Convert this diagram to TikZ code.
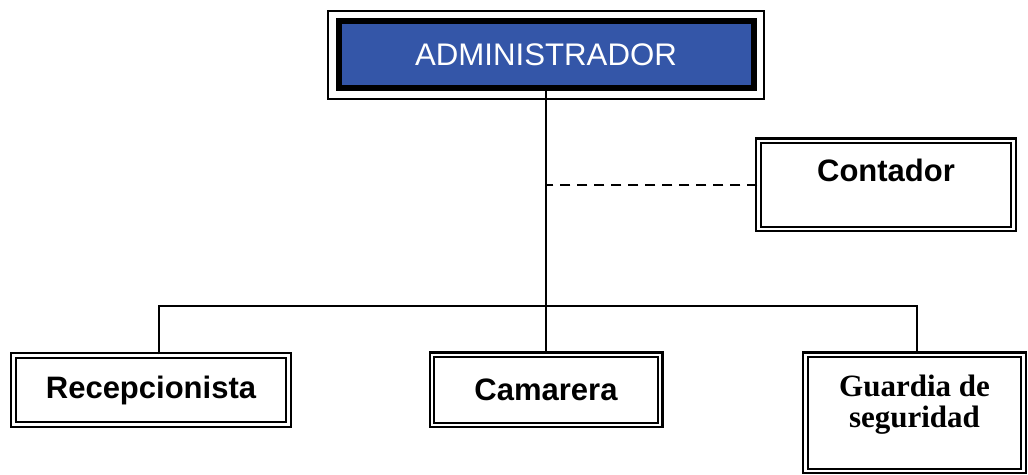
\documentclass[tikz,border=0pt]{standalone}
\usepackage{fontspec}
\setmainfont{Liberation Sans}
\newfontfamily\timesbf{Liberation Serif}[BoldFont={* Bold}]
\definecolor{admblue}{RGB}{52,86,168}

\begin{document}
\begin{tikzpicture}[-,shorten >=0pt,node distance=166pt,line width=1.2pt,
    head node/.style={draw=black,fill=admblue,line width=3pt,minimum width=207.5pt,minimum height=33.5pt,text=white,font=\fontsize{15.6}{18}\selectfont},
    main node/.style={draw=black,double=white,line width=1.1pt,double distance=1.2pt,font=\fontsize{15.5}{18}\selectfont\bfseries},
    dash line/.style={dashed,dash pattern=on 5pt off 3.5pt,line width=1.2pt}]

            \useasboundingbox (0pt,0pt) rectangle (514pt,-237.5pt);

            \node[head node] (1) at (273pt,-27.5pt){ADMINISTRADOR};
            \draw[line width=1pt] ([shift={(-3.75pt,3.75pt)}]1.north west) rectangle ([shift={(3.75pt,-3.75pt)}]1.south east);

            \node[main node,minimum width=114.1pt,minimum height=35.1pt] (3) [below of = 1, yshift=-1.5pt]{Camarera};
            \node[main node,minimum width=137.6pt,minimum height=34.6pt] (2) [left of = 3, xshift=-31.5pt]{Recepcionista};
            \node[main node,minimum width=109.1pt,minimum height=58.1pt,align=center,font=\fontsize{15.5}{15.5}\selectfont\timesbf\bfseries] (4) [right of = 3, xshift=18.25pt, yshift=-11.5pt]{Guardia de\\seguridad\rule[-11.5pt]{0pt}{11.5pt}};
            \node[main node,minimum width=127.6pt,minimum height=44.1pt,text height=11.3pt,text depth=14.3pt] (5) [right of = 1, xshift=4pt, yshift=-65pt]{Contador};

            \coordinate (6) at (273pt,-153pt);

            \path
                (1) edge (3)
            ;
            \draw ([xshift=4pt]2.north) -- ([xshift=4pt]2.north |- 6) -- ([xshift=1.25pt]4.north |- 6) -- ([xshift=1.25pt]4.north);
            \draw[dash line] (5.west) -- (5.west -| 1.south);
        \end{tikzpicture}
\end{document}
